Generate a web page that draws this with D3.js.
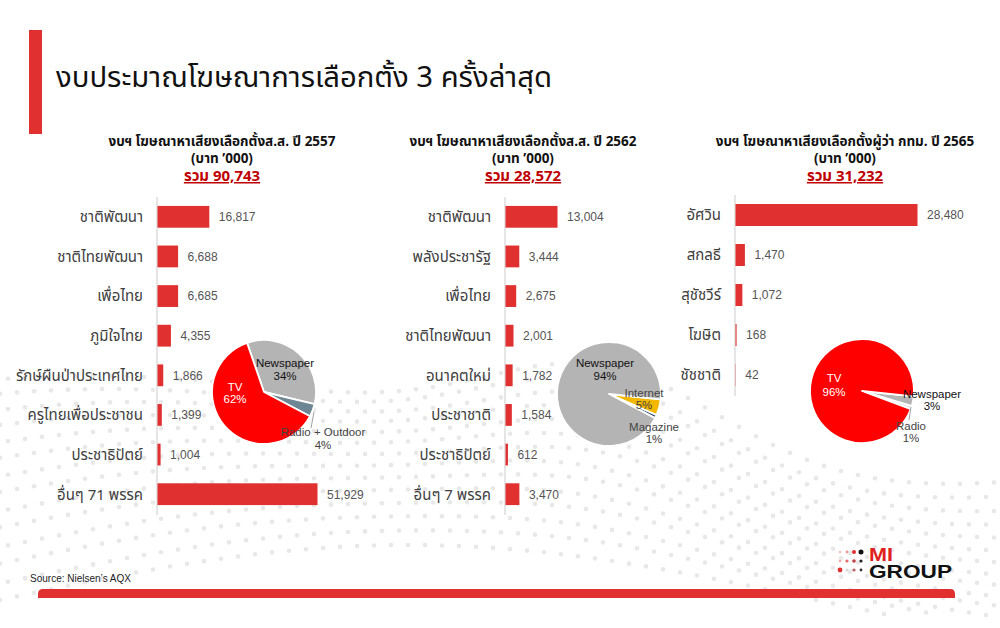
<!DOCTYPE html>
<html><head><meta charset="utf-8">
<script src="https://cdn.jsdelivr.net/npm/d3@7"></script>
<style>
html,body{margin:0;padding:0;background:#fff;}
svg{display:block;}
.th{font-family:Tahoma,"Noto Sans Thai","Noto Sans","DejaVu Sans",sans-serif;}
.ar{font-family:"Liberation Sans",Arial,sans-serif;}
</style></head>
<body>
<svg id="c" width="1000" height="628"></svg>
<script>
// ---------- data ----------
const pageTitle = "งบประมาณโฆษณาการเลือกตั้ง 3 ครั้งล่าสุด";
const panelTitles = [
  "งบฯ โฆษณาหาเสียงเลือกตั้งส.ส. ปี 2557",
  "งบฯ โฆษณาหาเสียงเลือกตั้งส.ส. ปี 2562",
  "งบฯ โฆษณาหาเสียงเลือกตั้งผู้ว่า กทม. ปี 2565"
];
const unitLabel = "(บาท ’000)";
const totalPrefix = "รวม ";

const parties2557 = ["ชาติพัฒนา","ชาติไทยพัฒนา","เพื่อไทย","ภูมิใจไทย","รักษ์ผืนป่าประเทศไทย","ครูไทยเพื่อประชาชน","ประชาธิปัตย์","อื่นๆ 71 พรรค"];
const values2557 = [16817, 6688, 6685, 4355, 1866, 1399, 1004, 51929];

const parties2562 = ["ชาติพัฒนา","พลังประชารัฐ","เพื่อไทย","ชาติไทยพัฒนา","อนาคตใหม่","ประชาชาติ","ประชาธิปัตย์","อื่นๆ 7 พรรค"];
const values2562 = [13004, 3444, 2675, 2001, 1782, 1584, 612, 3470];

const candidates2565 = ["อัศวิน","สกลธี","สุชัชวีร์","โฆษิต","ชัชชาติ"];
const values2565 = [28480, 1470, 1072, 168, 42];

const media2557 = ["Newspaper","Radio + Outdoor","TV"];
const shares2557 = [34, 4, 62];
const media2562 = ["Internet","Magazine","Newspaper"];
const shares2562 = [5, 1, 94];
const media2565 = ["Newspaper","Radio","TV"];
const shares2565 = [3, 1, 96];

const sourceText = "Source: Nielsen’s AQX";

// ---------- drawing ----------
const svg = d3.select("#c");
const fmt = d3.format(",");

// decorative dotted background
(function(){
  const g = svg.append("g").attr("fill","#e8e8e8");
  const pts = [];
  for (let k = 0; k < 14; k++) {
    for (let x = 0; x <= 1000; x += 17) {
      const y = 600 - k*13 - 55*Math.sin((x + k*25)/260) - 40*Math.exp(-Math.pow((x-600)/170,2))*(k/6);
      if (y > 330 && y < 615) pts.push([x + (k%2)*8, y]);
    }
  }
  g.selectAll("circle").data(pts).join("circle")
    .attr("cx", d=>d[0]).attr("cy", d=>d[1]).attr("r", 2.3);
})();

// header bar + title
svg.append("rect").attr("x",29).attr("y",30).attr("width",13).attr("height",104).attr("fill","#e03030");
svg.append("text").attr("class","th").attr("x",56).attr("y",87)
  .attr("font-size",29).attr("fill","#111").attr("textLength",496).attr("lengthAdjust","spacingAndGlyphs").text(pageTitle);

// footer
svg.append("path").attr("d","M38,598 L38,594 Q38,589 43,589 L950,589 Q955,589 955,594 L955,598 Z").attr("fill","#e03030");
svg.append("text").attr("class","ar").attr("x",30).attr("y",582).attr("font-size",10.5)
  .attr("fill","#222").attr("textLength",101).attr("lengthAdjust","spacingAndGlyphs").text(sourceText);

// logo
(function(){
  const g = svg.append("g");
  const dots = [
    [0,0,1.2,"#f2b8b8"],[1,0,1.4,"#ec9a9a"],[2,0,2.0,"#e03030"],[3,0,2.5,"#111"],
    [0,1,1.3,"#f0a8a8"],[1,1,1.6,"#e86a6a"],[2,1,1.8,"#c04040"],[3,1,1.6,"#222"],
    [0,2,2.4,"#e03030"],[1,2,1.6,"#d8d8d8"],[2,2,1.6,"#b86060"],[3,2,1.4,"#333"]
  ];
  g.selectAll("circle").data(dots).join("circle")
    .attr("cx",d=>840+d[0]*7).attr("cy",d=>552+d[1]*9).attr("r",d=>d[2]).attr("fill",d=>d[3]);
  g.append("text").attr("class","ar").attr("x",869).attr("y",561).attr("font-size",18).attr("font-weight","bold")
    .attr("fill","#e02020").attr("textLength",24).attr("lengthAdjust","spacingAndGlyphs").text("MI");
  g.append("text").attr("class","ar").attr("x",869).attr("y",578).attr("font-size",18).attr("font-weight","bold")
    .attr("fill","#111").attr("textLength",83).attr("lengthAdjust","spacingAndGlyphs").text("GROUP");
})();

// panels
const panels = [
  {cats: parties2557, vals: values2557, title: panelTitles[0], cx: 222, axisX: 157, width: 160, y0: 197, y1: 514,
   media: media2557, shares: shares2557, pie: {x:264, y:392, start:-19},
   colors: {"TV":"#ff0000","Newspaper":"#b4b4b4","Radio + Outdoor":"#6e8593"},
   lab: {"TV":[235,391,403,"#fff"],"Newspaper":[285,367,380,"#111"],"Radio + Outdoor":[323,436,449,"#444"]},
   leader: {"Radio + Outdoor":[[314,412],[311,428]]}},
  {cats: parties2562, vals: values2562, title: panelTitles[1], cx: 523, axisX: 505, width: 52, y0: 197, y1: 514,
   media: media2562, shares: shares2562, pie: {x:609, y:394, start:96},
   colors: {"Internet":"#f5b800","Magazine":"#1f3864","Newspaper":"#b4b4b4"},
   lab: {"Newspaper":[605,367,380,"#111"],"Internet":[644,397,409,"#444"],"Magazine":[654,431,443,"#444"]},
   leader: {}},
  {cats: candidates2565, vals: values2565, title: panelTitles[2], cx: 845, axisX: 735, width: 182, y0: 195, y1: 395,
   media: media2565, shares: shares2565, pie: {x:862, y:391, start:96},
   colors: {"Newspaper":"#b4b4b4","Radio":"#dcdcdc","TV":"#ff0000"},
   lab: {"TV":[834,382,396,"#fff"],"Newspaper":[932,398,410,"#111"],"Radio":[911,430,442,"#444"]},
   leader: {"Radio":[[911,407],[909,420]]}}
];

panels.forEach(p => {
  const g = svg.append("g");
  // header (one multi-line text)
  const h = g.append("text").attr("class","th").attr("text-anchor","middle").attr("font-weight","bold");
  h.append("tspan").attr("x",p.cx).attr("y",146).attr("font-size",13.5).attr("fill","#111").text(p.title);
  h.append("tspan").attr("x",p.cx).attr("y",163).attr("font-size",13.5).attr("fill","#111").text(unitLabel);
  h.append("tspan").attr("x",p.cx).attr("y",181).attr("font-size",15).attr("fill","#c00000")
    .attr("text-decoration","underline").text(totalPrefix + fmt(d3.sum(p.vals)));

  const x = d3.scaleLinear().domain([0, d3.max(p.vals)]).range([p.axisX, p.axisX + p.width]);
  const y = d3.scaleBand().domain(p.cats).range([p.y0, p.y1]).paddingInner(0.45).paddingOuter(0.225);
  const data = p.cats.map((c,i)=>({c, v:p.vals[i]}));

  g.append("line").attr("x1",p.axisX).attr("x2",p.axisX).attr("y1",p.y0).attr("y2",p.y1+1)
    .attr("stroke","#d4d4d4").attr("stroke-width",1.2);
  g.selectAll("rect.bar").data(data).join("rect").attr("class","bar")
    .attr("x", x(0)+0.5).attr("y", d=>y(d.c)).attr("width", d=>Math.max(0, x(d.v)-x(0)))
    .attr("height", y.bandwidth()).attr("fill","#e03030");
  g.selectAll("text.cat").data(data).join("text").attr("class","cat th")
    .attr("x", p.axisX-14).attr("y", d=>y(d.c)+y.bandwidth()/2).attr("dy","0.36em")
    .attr("text-anchor","end").attr("font-size",15).attr("fill","#404040").text(d=>d.c);
  g.selectAll("text.val").data(data).join("text").attr("class","val ar")
    .attr("x", d=>x(d.v)+10).attr("y", d=>y(d.c)+y.bandwidth()/2).attr("dy","0.36em")
    .attr("font-size",12).attr("fill","#555").text(d=>fmt(d.v));

  // pie
  const pieData = p.media.map((m,i)=>({m, s:p.shares[i]}));
  const a0 = p.pie.start*Math.PI/180;
  const arcs = d3.pie().sort(null).value(d=>d.s).startAngle(a0).endAngle(a0+2*Math.PI)(pieData);
  const arc = d3.arc().innerRadius(0).outerRadius(52);
  const pg = g.append("g").attr("transform",`translate(${p.pie.x},${p.pie.y})`);
  pg.selectAll("path").data(arcs).join("path").attr("d",arc)
    .attr("fill",d=>p.colors[d.data.m]).attr("stroke","#fff").attr("stroke-width",1.8).attr("stroke-linejoin","round");
  Object.entries(p.leader).forEach(([k,pts])=>{
    g.append("line").attr("x1",pts[0][0]).attr("y1",pts[0][1]).attr("x2",pts[1][0]).attr("y2",pts[1][1])
      .attr("stroke","#a0a0a0").attr("stroke-width",1);
  });
  pieData.forEach(d=>{
    const L = p.lab[d.m];
    const t = g.append("text").attr("class","ar").attr("text-anchor","middle").attr("font-size",11.5).attr("fill",L[3]);
    t.append("tspan").attr("x",L[0]).attr("y",L[1]).text(d.m);
    t.append("tspan").attr("x",L[0]).attr("y",L[2]).text(d.s + "%");
  });
});
</script>
</body></html>
